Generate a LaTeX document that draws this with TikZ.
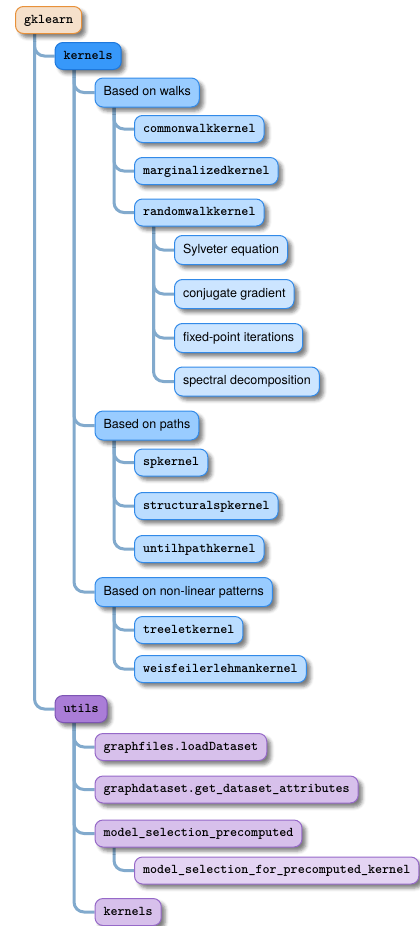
\documentclass[tikz,border=0pt]{standalone}
\usepackage{fontspec}
\setsansfont{TeX Gyre Heros}
\usepackage{tikz}
\usetikzlibrary{positioning,shadows.blur,backgrounds}

\definecolor{rootfill}{RGB}{245,224,203}
\definecolor{rootline}{RGB}{232,145,58}
\definecolor{kafill}{RGB}{55,152,250}
\definecolor{kaline}{RGB}{30,120,220}
\definecolor{kbfill}{RGB}{153,204,255}
\definecolor{kcfill}{RGB}{187,221,255}
\definecolor{kdfill}{RGB}{204,229,255}
\definecolor{kline}{RGB}{50,138,232}
\definecolor{uafill}{RGB}{170,125,215}
\definecolor{ualine}{RGB}{125,85,180}
\definecolor{ubfill}{RGB}{215,192,235}
\definecolor{ucfill}{RGB}{228,212,243}
\definecolor{uline}{RGB}{150,105,200}
\definecolor{connline}{RGB}{130,170,205}

\tikzset{
  box/.style={draw, rounded corners=8pt, line width=1pt, anchor=west,
    inner xsep=8.5pt, inner ysep=0pt, minimum height=27pt,
    text height=9.5pt, text depth=3pt,
    blur shadow={shadow xshift=4pt, shadow yshift=-4pt, shadow blur radius=3.5pt, shadow opacity=50},
    font=\fontsize{13.4}{16}\selectfont\ttfamily\bfseries},
  sans/.style={font=\fontsize{12.5}{15}\selectfont\sffamily, minimum height=29pt},
  top/.style={box, fill=rootfill, draw=rootline},
  ka/.style={box, fill=kafill, draw=kaline},
  kb/.style={box, fill=kbfill, draw=kline},
  kc/.style={box, fill=kcfill, draw=kline},
  kd/.style={box, fill=kdfill, draw=kline},
  ua/.style={box, fill=uafill, draw=ualine},
  ub/.style={box, fill=ubfill, draw=uline},
  uc/.style={box, fill=ucfill, draw=uline},
  conn/.style={draw=connline, line width=3pt, rounded corners=10pt}
}

\begin{document}
\begin{tikzpicture}[x=1pt,y=-1pt]
		\useasboundingbox (0,0) rectangle (420,926);
		\node[top] (root) at (15,20) {gklearn};
		\node[ka] (kern) at (54.5,56) {kernels};
		\node[kb,sans] (walks) at (94.5,92.5) {Based on walks};
		\node[kc] (cwk) at (134,129) {commonwalkkernel};
		\node[kc] (mk) at (134,171) {marginalizedkernel};
		\node[kc] (rwk) at (134,212.5) {randomwalkkernel};
		\node[kd,sans] (syl) at (174,250) {Sylveter equation};
		\node[kd,sans] (cg) at (174,294) {conjugate gradient};
		\node[kd,sans] (fp) at (174,338) {fixed-point iterations};
		\node[kd,sans] (sd) at (174,381.5) {spectral decomposition};
		\node[kb,sans] (paths) at (94.5,425.5) {Based on paths};
		\node[kc] (sp) at (134,462.5) {spkernel};
		\node[kc] (ssp) at (134,506) {structuralspkernel};
		\node[kc] (uhp) at (134,549) {untilhpathkernel};
		\node[kb,sans] (nonlin) at (94.5,592) {Based on non-linear patterns};
		\node[kc] (tree) at (134,630) {treeletkernel};
		\node[kc] (wl) at (134,669) {weisfeilerlehmankernel};
		\node[ua] (utils) at (54.5,709) {utils};
		\node[ub] (gf) at (94.5,747) {graphfiles.loadDataset};
		\node[ub] (gd) at (94.5,789.5) {graphdataset.get\_dataset\_attributes};
		\node[ub] (msp) at (94.5,833.5) {model\_selection\_precomputed};
		\node[uc] (msfp) at (134,870.5) {model\_selection\_for\_precomputed\_kernel};
		\node[ub] (ukern) at (94.5,912) {kernels};
		\begin{scope}[on background layer]
		\foreach \p/\c in {root/kern, root/utils, kern/walks, kern/paths, kern/nonlin,
		  walks/cwk, walks/mk, walks/rwk, rwk/syl, rwk/cg, rwk/fp, rwk/sd,
		  paths/sp, paths/ssp, paths/uhp, nonlin/tree, nonlin/wl,
		  utils/gf, utils/gd, utils/msp, utils/ukern, msp/msfp}
		  \draw[conn] ([xshift=19.5pt]\p.south west) |- (\c.west);
		\end{scope}
\end{tikzpicture}
\end{document}
